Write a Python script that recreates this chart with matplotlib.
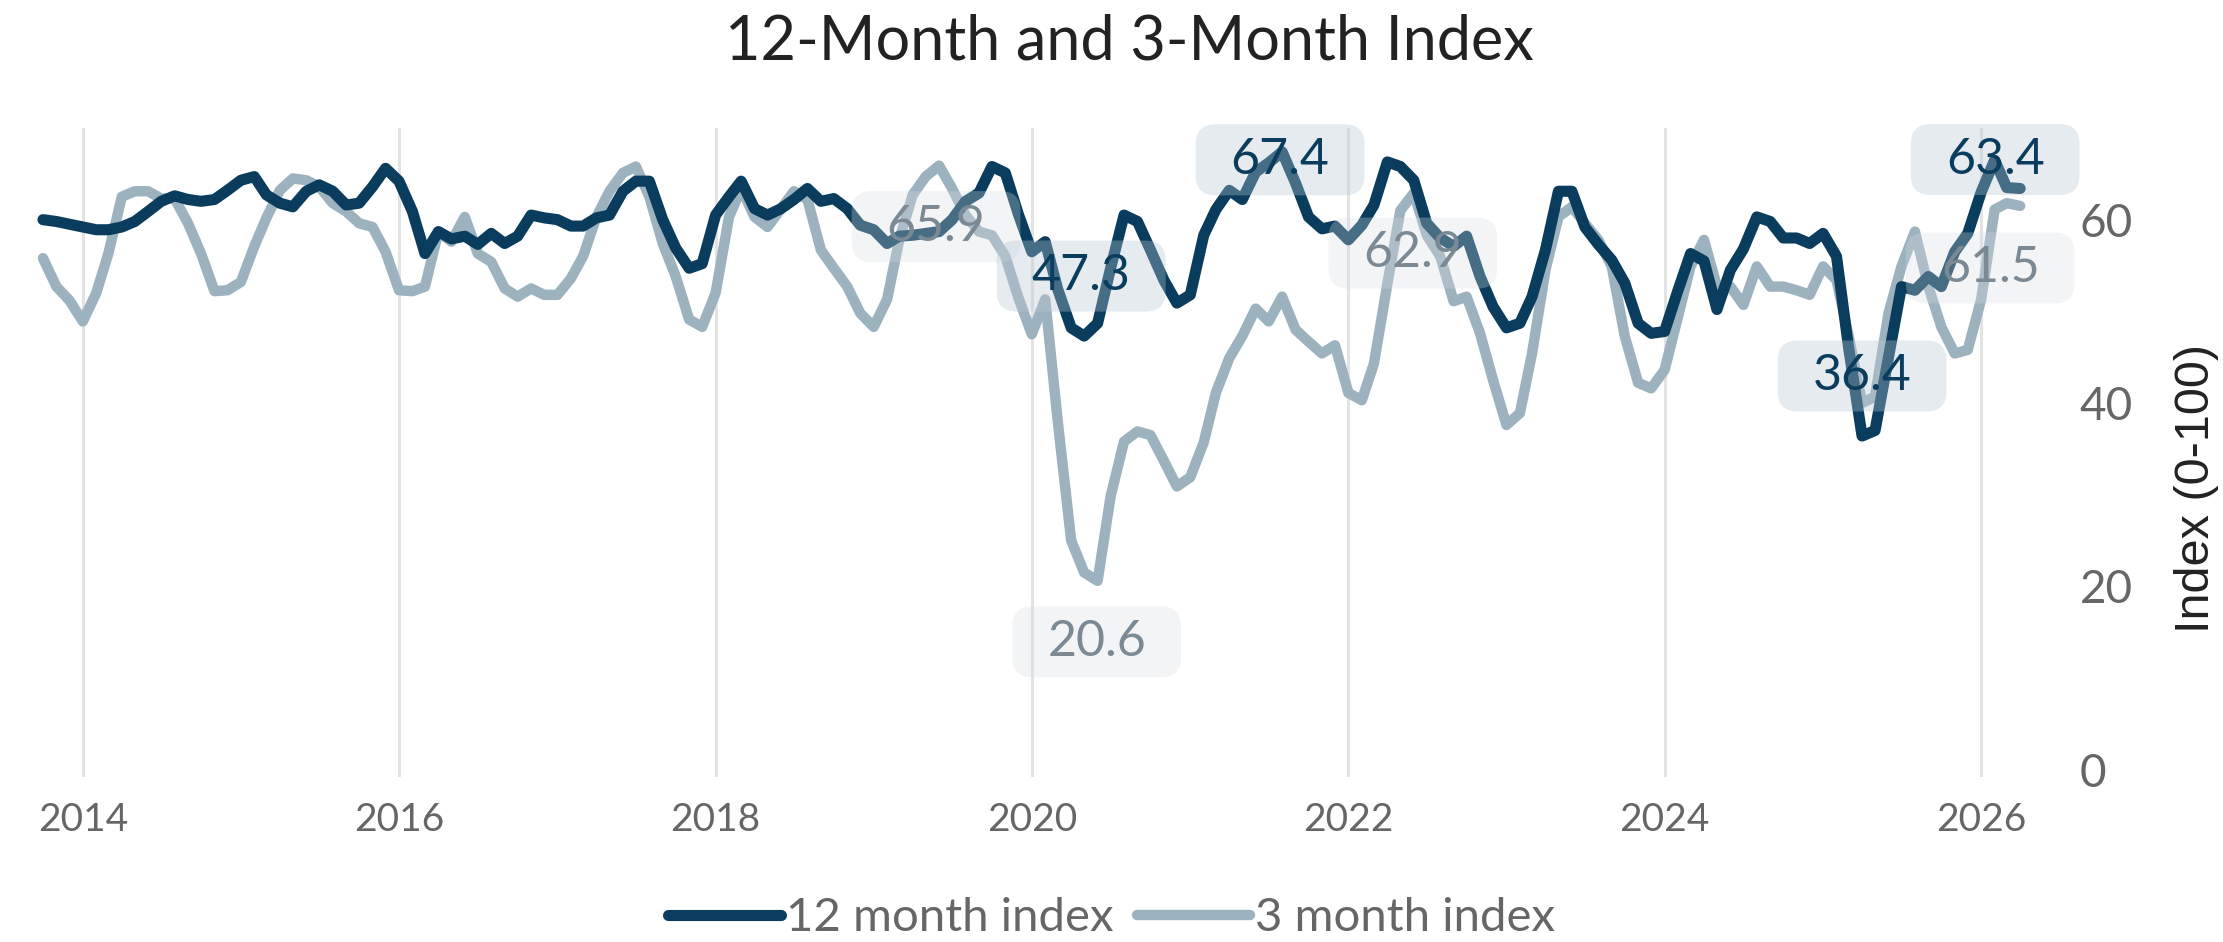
import matplotlib
matplotlib.use('Agg')
import matplotlib.dates as mdates
import numpy as np
import pandas as pd
import pylab as plt
from matplotlib.patches import BoxStyle

# monthly readings, Oct 2013 .. Apr 2026
start_month = '2013-10-01'
index_12m = [
    60.0, 59.8, 59.5, 59.2, 58.9, 58.9, 59.2, 59.8, 60.9, 62.0, 62.6, 62.2,
    62.0, 62.2, 63.2, 64.3, 64.7, 62.7, 61.8, 61.4, 63.1, 63.8, 63.1, 61.6,
    61.8, 63.6, 65.6, 64.2, 60.9, 56.3, 58.7, 57.9, 58.2, 57.3, 58.5, 57.4,
    58.2, 60.5, 60.2, 60.0, 59.3, 59.3, 60.2, 60.5, 63.1, 64.2, 64.2, 60.0,
    56.9, 54.7, 55.2, 60.5, 62.5, 64.2, 61.2, 60.5, 61.2, 62.2, 63.4, 62.0,
    62.3, 61.2, 59.4, 58.9, 57.4, 58.2, 58.3, 58.5, 58.7, 60.0, 62.0, 62.9,
    65.8, 65.1, 60.6, 56.5, 57.6, 52.4, 48.2, 47.3, 48.7, 54.7, 60.5, 59.8,
    56.7, 53.4, 50.9, 51.8, 58.3, 61.1, 63.2, 62.2, 65.2, 66.2, 67.4, 64.0,
    60.3, 59.0, 59.3, 57.8, 59.4, 61.6, 66.3, 65.8, 64.3, 59.6, 58.0, 57.1,
    58.2, 53.8, 50.5, 48.2, 48.7, 51.6, 56.7, 63.1, 63.1, 59.2, 57.3, 55.6,
    53.1, 48.7, 47.6, 47.8, 52.3, 56.3, 55.5, 50.2, 54.5, 56.8, 60.3, 59.8,
    58.0, 58.0, 57.4, 58.5, 56.0, 46.0, 36.4, 37.0, 45.0, 52.7, 52.3, 53.8,
    52.7, 56.5, 58.5, 63.0, 66.5, 63.5, 63.4,
]
index_3m = [
    55.8, 52.7, 51.2, 48.9, 52.0, 56.3, 62.5, 63.1, 63.1, 62.3, 62.3, 59.6,
    56.3, 52.2, 52.3, 53.2, 57.1, 60.2, 63.2, 64.5, 64.3, 63.6, 61.8, 60.9,
    59.6, 59.2, 56.5, 52.3, 52.2, 52.7, 58.7, 57.6, 60.3, 56.3, 55.4, 52.5,
    51.6, 52.5, 51.8, 51.8, 53.6, 56.0, 60.3, 63.1, 65.1, 65.8, 62.5, 57.4,
    53.8, 49.1, 48.3, 52.0, 60.3, 63.4, 60.3, 59.2, 61.2, 63.1, 62.2, 56.7,
    54.7, 52.7, 49.8, 48.3, 51.3, 57.8, 62.7, 64.7, 65.9, 63.4, 60.5, 58.7,
    58.3, 56.0, 51.5, 47.5, 51.3, 38.0, 25.0, 21.5, 20.6, 29.8, 35.8, 36.9,
    36.5, 33.7, 30.9, 31.9, 35.7, 41.1, 44.9, 47.3, 50.3, 48.9, 51.6, 48.0,
    46.7, 45.4, 46.3, 41.1, 40.3, 44.3, 53.0, 61.0, 62.9, 58.3, 56.0, 51.1,
    51.6, 47.6, 42.5, 37.6, 38.9, 45.4, 54.5, 60.3, 61.4, 59.6, 57.8, 54.9,
    47.3, 42.2, 41.6, 43.6, 49.4, 54.9, 57.8, 52.7, 52.7, 50.7, 54.9, 52.7,
    52.7, 52.3, 51.8, 54.9, 53.4, 47.3, 40.0, 40.7, 49.8, 54.9, 58.7, 52.7,
    48.3, 45.4, 45.8, 51.3, 61.1, 61.8, 61.5,
]

# callouts: (series, month, offset in pixels)
callouts = [
    ('3m', '2019-06-01', (-3, -61)),
    ('12m', '2020-05-01', (-3, 60)),
    ('3m', '2020-06-01', (-1, -61)),
    ('12m', '2021-08-01', (-2, -8)),
    ('3m', '2022-06-01', (-1, -60)),
    ('12m', '2025-04-01', (0, 60)),
    ('12m', '2026-04-01', (-25, 29)),
    ('3m', '2026-04-01', (-30, -62)),
]

dark = '#0a3d5d'
light = '#9db2bf'

dates = pd.date_range(start_month, periods=len(index_12m), freq='MS')
df = pd.DataFrame({'12m': index_12m, '3m': index_3m}, index=dates)

plt.rcParams['font.family'] = ['Lato', 'DejaVu Sans']

fig = plt.figure(figsize=(22.23, 9.42), dpi=100)
ax = fig.add_axes([20 / 2223, 1 - 777 / 942, 2040 / 2223, 649 / 942])

ax.plot(df.index, df['12m'], color=dark, lw=8, solid_capstyle='round',
        solid_joinstyle='round', label='12 month index', zorder=3)
ax.plot(df.index, df['3m'], color=light, lw=7.5, solid_capstyle='round',
        solid_joinstyle='round', label='3 month index', zorder=2)

_round = BoxStyle.Round(pad=0, rounding_size=0.4)


def wide_box(x0, y0, width, height, mutation_size):
    px, py = 0.7 * mutation_size, 0.25 * mutation_size
    return _round(x0 - px, y0 - py, width + 2 * px, height + 2 * py, mutation_size)


for series, when, off in callouts:
    val = df.loc[when, series]
    if series == '12m':
        tcol, fcol, a = dark, '#b8c7d3', 0.35
    else:
        tcol, fcol, a = '#7a8993', '#d5dde3', 0.3
    ax.annotate(f'{val:.1f}', xy=(pd.Timestamp(when), val), xytext=off,
                textcoords='offset pixels', ha='center', va='center',
                fontsize=36, color=tcol, zorder=5,
                bbox=dict(boxstyle=wide_box, fc=fcol, ec='none', alpha=a))

t0 = pd.Timestamp('2014-01-01')
ax.set_xlim(t0 - pd.Timedelta(days=145), t0 + pd.Timedelta(days=4565))
ax.set_ylim(-0.8, 70)
ax.xaxis.set_major_locator(mdates.YearLocator(2))
ax.xaxis.set_major_formatter(mdates.DateFormatter('%Y'))
ax.set_yticks([0, 20, 40, 60])
ax.yaxis.tick_right()
ax.set_ylabel('Index (0-100)', fontsize=35, color='#222222',
              family=['Liberation Sans', 'DejaVu Sans'])
ax.yaxis.set_label_position('right')
ax.yaxis.set_label_coords(1.056, 0.445)
ax.tick_params(axis='x', length=0, labelsize=28, labelcolor='#666666', pad=18)
ax.tick_params(axis='y', length=0, labelsize=33, labelcolor='#666666', pad=14)
ax.grid(axis='x', color='#e3e3e3', lw=2.2)
ax.grid(axis='y', visible=False)
ax.set_axisbelow(True)
for s in ax.spines.values():
    s.set_visible(False)

fig.suptitle('12-Month and 3-Month Index', x=0.508, y=0.955, fontsize=44,
             color='#222222', va='center')
fig.legend(loc='center', bbox_to_anchor=(0.5, 0.025), ncol=2, frameon=False,
           fontsize=34, labelcolor='#666666', handlelength=2.4,
           handletextpad=0.1, columnspacing=0.5)

plt.savefig('out.png', dpi=100)
